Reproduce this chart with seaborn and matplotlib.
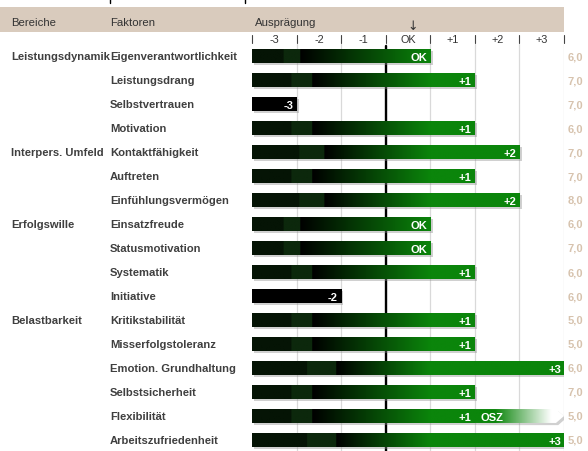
import numpy as np
import pandas as pd
import matplotlib
matplotlib.use("Agg")
import matplotlib.pyplot as plt
import matplotlib.transforms as mtrans
from matplotlib.patches import Rectangle, Polygon
from matplotlib.lines import Line2D
import seaborn as sns

# ---------------- data ----------------
bereiche = ["Leistungsdynamik", "", "", "", "Interpers. Umfeld", "", "", "Erfolgswille",
            "", "", "", "Belastbarkeit", "", "", "", "", ""]
faktoren = ["Eigenverantwortlichkeit", "Leistungsdrang", "Selbstvertrauen", "Motivation",
            "Kontaktfähigkeit", "Auftreten", "Einfühlungsvermögen", "Einsatzfreude",
            "Statusmotivation", "Systematik", "Initiative", "Kritikstabilität",
            "Misserfolgstoleranz", "Emotion. Grundhaltung", "Selbstsicherheit",
            "Flexibilität", "Arbeitszufriedenheit"]
werte = [0, 1, -3, 1, 2, 1, 2, 0, 0, 1, -2, 1, 1, 3, 1, 1, 3]
osz_bis = [None, None, None, None, None, None, None, None, None, None, None, None,
           None, None, None, 3, None]
rechts = ["6,0", "7,0", "7,0", "6,0", "7,0", "7,0", "8,0", "6,0", "7,0", "6,0", "6,0",
          "5,0", "5,0", "6,0", "7,0", "5,0", "5,0"]
skala = ["-3", "-2", "-1", "OK", "+1", "+2", "+3"]
header = ["Bereiche", "Faktoren", "Ausprägung"]

# bar length in scale columns: value -3 fills the first column, +3 all seven
laengen = [v + 4 for v in werte]
df = pd.DataFrame({"Faktor": faktoren, "Laenge": laengen})

# ---------------- style ----------------
sns.set_style("white")
plt.rcParams["font.family"] = ["Liberation Sans", "DejaVu Sans"]

W, H = 588, 452
fig = plt.figure(figsize=(W / 100, H / 100), dpi=100)
ax_left, ax_right = 252, 564
ax_top, ax_bot = 45, 452
ax = fig.add_axes([ax_left / W, 1 - ax_bot / H, (ax_right - ax_left) / W, (ax_bot - ax_top) / H])

sns.barplot(data=df, x="Laenge", y="Faktor", orient="h", width=0.58,
            color="black", ax=ax, zorder=3)

n = len(faktoren)
row0, dy = 57, 24
y_top = -0.5
y_bot = (ax_bot - row0) / dy
ax.set_xlim(0, 7)
ax.set_ylim(y_bot, y_top)
ax.set_xticks([])
ax.set_yticks([])
ax.set_xlabel("")
ax.set_ylabel("")
for s in ax.spines.values():
    s.set_visible(False)

# grid
for gx in range(1, 8):
    ax.axvline(gx, color="#d9d9d9", lw=0.9, zorder=1)
ax.axvline(3, ymin=0, ymax=1 - (47 - ax_top) / (ax_bot - ax_top), color="black", lw=1.7, zorder=1.5)

green = np.array([11, 133, 11]) / 255.0
black = np.zeros(3)


def bar_rgb(xs, L, v):
    out = np.zeros((len(xs), 3))
    if v < 0:
        return out
    s_end = 0.27 * L
    r_end = max(4.0, s_end + 1.0)
    for i, x in enumerate(xs):
        if x < 0.65 * s_end:
            c = np.array([5, 20, 5]) / 255.0
        elif x < s_end:
            c = np.array([12, 40, 12]) / 255.0
        else:
            t = np.clip((x - s_end) / (r_end - s_end), 0, 1)
            c = black * (1 - t) + green * t
        out[i] = c
    return out


patches = list(ax.patches)
for i, p in enumerate(patches):
    x0, y0 = p.get_x(), p.get_y()
    w, h = p.get_width(), p.get_height()
    v = werte[i]
    p.set_facecolor("none")
    p.set_edgecolor("none")
    # shadow
    ax.add_patch(Rectangle((x0 + 0.05, y0 + 0.09), w, h, fc="#8a8a8a", alpha=0.4, lw=0, zorder=2))
    xs = np.linspace(x0, x0 + w, 300)
    rgb = bar_rgb(xs, w, v)
    im = ax.imshow(rgb[None, :, :], extent=(x0, x0 + w, y0 + h, y0), aspect="auto",
                   interpolation="bilinear", zorder=3)
    im.set_clip_path(p)
    lab = "OK" if v == 0 else f"{v:+d}"
    ax.text(x0 + w - 0.07, y0 + h / 2 + 0.03, lab, color="white", fontsize=8, fontweight="bold",
            ha="right", va="center", zorder=5)
    # oscillation extension
    if osz_bis[i] is not None:
        xe = osz_bis[i] + 4
        xa = x0 + w
        poly_pts = [(xa, y0), (xe - 0.18, y0), (xe, y0 + h / 2), (xe - 0.18, y0 + h), (xa, y0 + h)]
        shadow = Polygon([(px + 0.05, py + 0.09) for px, py in poly_pts], closed=True,
                         fc="#8a8a8a", alpha=0.4, lw=0, zorder=2)
        ax.add_patch(shadow)
        poly = Polygon(poly_pts, closed=True, fc="none", ec="none", zorder=3)
        ax.add_patch(poly)
        xs2 = np.linspace(xa, xe, 300)
        t = np.clip((xs2 - (xa + 0.45)) / (xe - 0.3 - (xa + 0.45)), 0, 1)
        rgb2 = green[None, :] * (1 - t[:, None]) + np.ones(3)[None, :] * t[:, None]
        im2 = ax.imshow(rgb2[None, :, :], extent=(xa, xe, y0 + h, y0), aspect="auto",
                        interpolation="bilinear", zorder=3)
        im2.set_clip_path(poly)
        ax.text(xa + 0.13, y0 + h / 2 + 0.03, "OSZ", color="white", fontsize=8,
                fontweight="bold", ha="left", va="center", zorder=5)

ax.set_xlim(0, 7)
ax.set_ylim(y_bot, y_top)

# left labels
tr_fd = mtrans.blended_transform_factory(fig.transFigure, ax.transData)
txt_col = "#3f3f3f"
for i in range(n):
    if bereiche[i]:
        ax.text(11 / W, i, bereiche[i], transform=tr_fd, ha="left", va="center",
                fontsize=8.1, fontweight="bold", color=txt_col)
    ax.text(110 / W, i, faktoren[i], transform=tr_fd, ha="left", va="center",
            fontsize=8.1, fontweight="bold", color=txt_col)
    ax.text(575 / W, i, rechts[i], transform=tr_fd, ha="center", va="center",
            fontsize=8, fontweight="bold", color="#d7c3ae")

# header band
fig.add_artist(Rectangle((0, 1 - 33 / H), 564 / W, 25 / H, transform=fig.transFigure,
                         fc="#d9cbbd", lw=0, zorder=0))
for txt, px in zip(header, [11, 110, 255]):
    fig.text(px / W, 1 - 23 / H, txt, ha="left", va="center", fontsize=8.2, color="#333333")
fig.text(413 / W, 1 - 27 / H, "↓", ha="center", va="center", fontsize=9, color="#333333",
         family=["DejaVu Sans"])

# small marks at top
for px in [110, 245]:
    fig.add_artist(Line2D([px / W, px / W], [1, 1 - 4 / H], transform=fig.transFigure,
                          color="black", lw=1))

# scale row
tr_df = mtrans.blended_transform_factory(ax.transData, fig.transFigure)
for k, lab in enumerate(skala):
    ax.text(k + 0.5, 1 - 40 / H, lab, transform=tr_df, ha="center", va="center",
            fontsize=7.8, color="#333333")
for k in range(len(skala) + 1):
    ax.add_artist(Line2D([k, k], [1 - 36 / H, 1 - 44 / H], transform=tr_df,
                         color="#444444", lw=0.8, clip_on=False))

fig.savefig("out.png", dpi=100)
